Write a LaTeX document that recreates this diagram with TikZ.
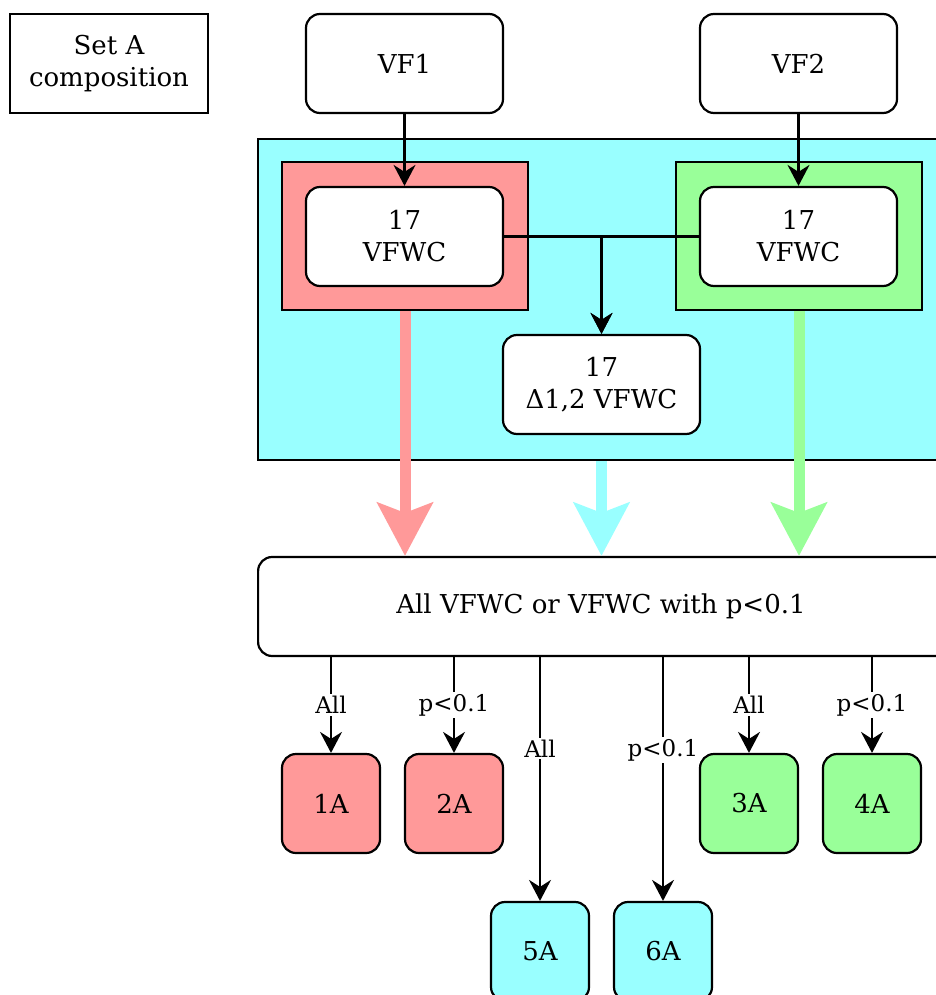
\documentclass[tikz,border=0pt]{standalone}
\usepackage{fontspec}
\setmainfont{DejaVu Serif}
\usetikzlibrary{arrows.meta}
\definecolor{pinkfill}{HTML}{FF9999}
\definecolor{greenfill}{HTML}{99FF99}
\definecolor{cyanfill}{HTML}{99FFFF}
\begin{document}
\begin{tikzpicture}[x=1pt,y=-1pt,
  txt/.style={font=\fontsize{26}{32}\selectfont, align=center},
  plainbox/.style={txt, draw, line width=2.2pt, inner sep=0pt},
  roundbox/.style={plainbox, rounded corners=14pt, fill=white,
    minimum width=197pt, minimum height=99pt},
  smallbox/.style={plainbox, rounded corners=14pt,
    minimum width=98pt, minimum height=99pt},
  zone/.style={draw, line width=2.2pt, inner sep=0pt},
  link/.style={line width=2.2pt, -{Stealth[length=21pt, width=22pt, inset=7pt]}},
  flow/.style={line width=11pt, -{Stealth[length=53pt, width=55pt, inset=10pt]}},
  lbl/.style={font=\fontsize{23}{28}\selectfont, fill=white, inner sep=2pt}
]
\useasboundingbox (0,0) rectangle (936,995);

% containers
\node[zone, fill=cyanfill, anchor=north west, minimum width=700pt, minimum height=321pt] (cyanzone) at (257,138) {};
\node[zone, fill=pinkfill, minimum width=246pt, minimum height=148pt] (redzone) at (405,236) {};
\node[zone, fill=greenfill, minimum width=246pt, minimum height=148pt] (greenzone) at (799,236) {};

% legend box
\node[plainbox, minimum width=198pt, minimum height=99pt] (legend) at (109,63.5) {Set A\\composition};

% sources
\node[roundbox] (vf1) at (404.5,63.5) {VF1};
\node[roundbox] (vf2) at (798.5,63.5) {VF2};

% compositions
\node[roundbox] (w1) at (404.5,236.5) {17\\VFWC};
\node[roundbox] (w2) at (798.5,236.5) {17\\VFWC};
\node[roundbox] (delta) at (601.5,384.5) {17\\Δ1,2 VFWC};

% selection box
\node[roundbox, anchor=west, minimum width=720pt] (sel) at (257,606.5) {};
\node[txt] (seltext) at (601,606.5) {All VFWC or VFWC with p<0.1};

% result sets
\node[smallbox, fill=pinkfill] (a1) at (331,803.5) {1A};
\node[smallbox, fill=pinkfill] (a2) at (454,803.5) {2A};
\node[smallbox, fill=greenfill] (a3) at (749,803.5) {3A};
\node[smallbox, fill=greenfill] (a4) at (872,803.5) {4A};
\node[smallbox, fill=cyanfill] (a5) at (540,951.5) {5A};
\node[smallbox, fill=cyanfill] (a6) at (663,951.5) {6A};

% thin connectors
\draw[link] (vf1) -- (w1);
\draw[link] (vf2) -- (w2);
\draw[link] (w1.east) -| (delta.north);
\draw[link] (w2.west) -| (delta.north);

% thick flows into the selection box
\draw[flow, pinkfill] (redzone.south) -- (redzone.south |- sel.north);
\draw[flow, cyanfill] (delta.south |- cyanzone.south) -- (delta.south |- sel.north);
\draw[flow, greenfill] (greenzone.south) -- (greenzone.south |- sel.north);

% branches to result sets
\draw[link] (a1.north |- sel.south) -- node[lbl, pos=0.5] {All} (a1.north);
\draw[link] (a2.north |- sel.south) -- node[lbl, pos=0.5] {p<0.1} (a2.north);
\draw[link] (a3.north |- sel.south) -- node[lbl, pos=0.5] {All} (a3.north);
\draw[link] (a4.north |- sel.south) -- node[lbl, pos=0.5] {p<0.1} (a4.north);
\draw[link] (a5.north |- sel.south) -- node[lbl, pos=0.374] {All} (a5.north);
\draw[link] (a6.north |- sel.south) -- node[lbl, pos=0.382] {p<0.1} (a6.north);
\end{tikzpicture}
\end{document}
